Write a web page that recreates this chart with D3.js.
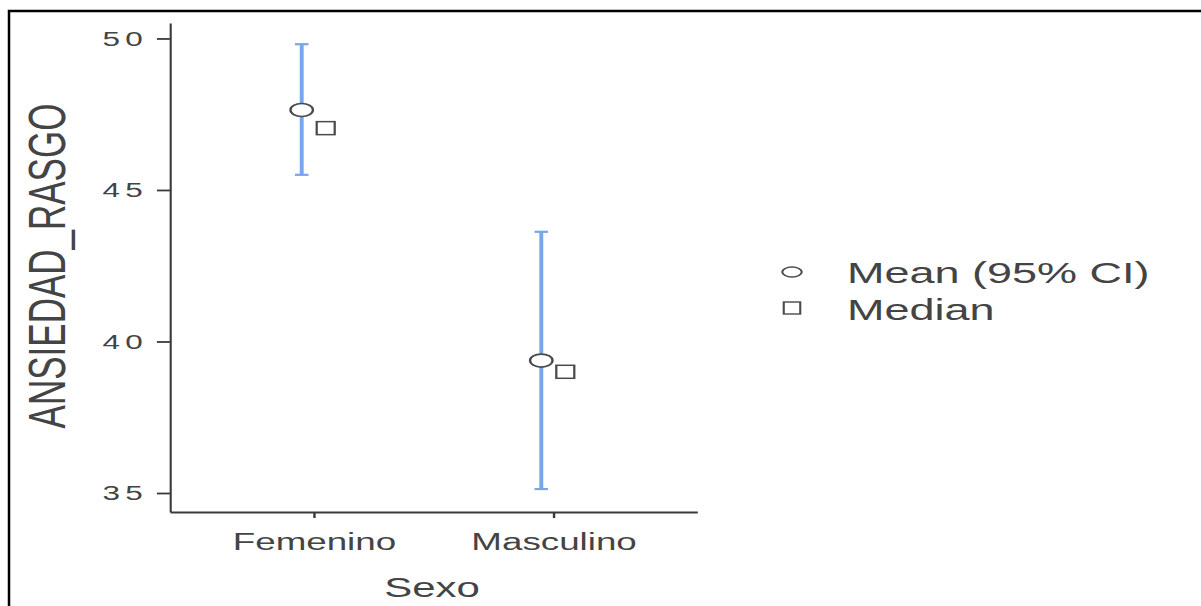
<!DOCTYPE html>
<meta charset="utf-8">
<script src="https://d3js.org/d3.v7.min.js"></script>
<style>
  body { margin: 0; background: #fff; }
  text { font-family: "Liberation Sans", Arial, sans-serif; }
</style>
<svg id="chart" width="1201" height="606"></svg>
<script>
// values
var categories = ["Femenino", "Masculino"];
var means      = [47.64, 39.37];
var ciLower    = [45.5, 35.13];
var ciUpper    = [49.81, 43.62];
var medians    = [47.04, 39.0];
var yTicks     = [35, 40, 45, 50];
var legendLabels = ["Mean (95% CI)", "Median"];

var svg = d3.select("#chart");

// frame around the picture
svg.append("path")
    .attr("d", "M9,606 L9,11 L1201,11")
    .attr("fill", "none")
    .attr("stroke", "#000")
    .attr("stroke-width", 2.5);

// the original picture is stretched horizontally, so draw in a scaled group
var sx = 1.5;
var g = svg.append("g").attr("transform", "scale(" + sx + ",1)");

var x = d3.scalePoint()
    .domain(categories)
    .range([113.3, 464.7])
    .padding(0.6);

var y = d3.scaleLinear()
    .domain([34.373, 50.51])
    .range([512, 23]);

var textCol = "#444", axisCol = "#3a3a3a";

// y axis
var yAxis = g.append("g")
    .attr("transform", "translate(113.3,0)")
    .call(d3.axisLeft(y).tickValues(yTicks).tickSize(8.7).tickSizeOuter(0).tickPadding(6));
yAxis.select(".domain").attr("stroke", axisCol).attr("stroke-width", 1.4);
yAxis.selectAll(".tick line").attr("stroke", axisCol).attr("stroke-width", 1.8);
yAxis.selectAll(".tick text")
    .attr("fill", textCol)
    .style("font-size", "21px")
    .style("letter-spacing", "3.5px")
    .style("font-family", "Liberation Sans, Arial, sans-serif");

// x axis
var xAxis = g.append("g")
    .attr("transform", "translate(0,512)")
    .call(d3.axisBottom(x).tickSize(6).tickSizeOuter(0).tickPadding(15));
xAxis.select(".domain").attr("stroke", axisCol).attr("stroke-width", 2);
xAxis.selectAll(".tick line").attr("stroke", axisCol).attr("stroke-width", 1.6);
xAxis.selectAll(".tick text")
    .attr("fill", textCol)
    .style("font-size", "24.5px")
    .style("font-family", "Liberation Sans, Arial, sans-serif");

// axis titles
g.append("text")
    .attr("x", 288).attr("y", 597)
    .attr("text-anchor", "middle")
    .attr("fill", textCol)
    .style("font-size", "28px")
    .text("Sexo");

g.append("text")
    .attr("transform", "translate(43.3,266) rotate(-90)")
    .attr("text-anchor", "middle")
    .attr("fill", textCol)
    .style("font-size", "35px")
    .text("ANSIEDAD_RASGO");

// error bars
var barCol = "#78a6ea";
var rows = categories.map(function(c, i) {
  return {cat: c, mean: means[i], lo: ciLower[i], hi: ciUpper[i], med: medians[i]};
});

var bars = g.append("g").selectAll("g").data(rows).enter().append("g");
bars.append("line")
    .attr("x1", function(d){ return x(d.cat) - 8; })
    .attr("x2", function(d){ return x(d.cat) - 8; })
    .attr("y1", function(d){ return y(d.lo); })
    .attr("y2", function(d){ return y(d.hi); })
    .attr("stroke", barCol).attr("stroke-width", 2.6);
["lo", "hi"].forEach(function(k) {
  bars.append("line")
      .attr("x1", function(d){ return x(d.cat) - 12.5; })
      .attr("x2", function(d){ return x(d.cat) - 3.5; })
      .attr("y1", function(d){ return y(d[k]); })
      .attr("y2", function(d){ return y(d[k]); })
      .attr("stroke", barCol).attr("stroke-width", 2.2);
});

// mean points
bars.append("ellipse")
    .attr("cx", function(d){ return x(d.cat) - 8; })
    .attr("cy", function(d){ return y(d.mean); })
    .attr("rx", 7.5).attr("ry", 6.5)
    .attr("fill", "#fff")
    .attr("stroke", "#4a4a4a").attr("stroke-width", 1.6);

// median points
bars.append("rect")
    .attr("x", function(d){ return x(d.cat) + 8 - 6; })
    .attr("y", function(d){ return y(d.med) - 6.5; })
    .attr("width", 12).attr("height", 13)
    .attr("fill", "#fff")
    .attr("stroke", "#4a4a4a").attr("stroke-width", 1.5);

// legend
var leg = g.append("g");
leg.append("ellipse")
    .attr("cx", 528).attr("cy", 272)
    .attr("rx", 6.5).attr("ry", 5)
    .attr("fill", "#fff").attr("stroke", "#4a4a4a").attr("stroke-width", 1.4);
leg.append("rect")
    .attr("x", 522.5).attr("y", 302)
    .attr("width", 11).attr("height", 12)
    .attr("fill", "#fff").attr("stroke", "#4a4a4a").attr("stroke-width", 1.4);
leg.selectAll("text.lab").data(legendLabels).enter().append("text")
    .attr("class", "lab")
    .attr("x", 564.7)
    .attr("y", function(d, i){ return 283 + i * 37; })
    .attr("fill", textCol)
    .style("font-size", "30px")
    .text(function(d){ return d; });
</script>
